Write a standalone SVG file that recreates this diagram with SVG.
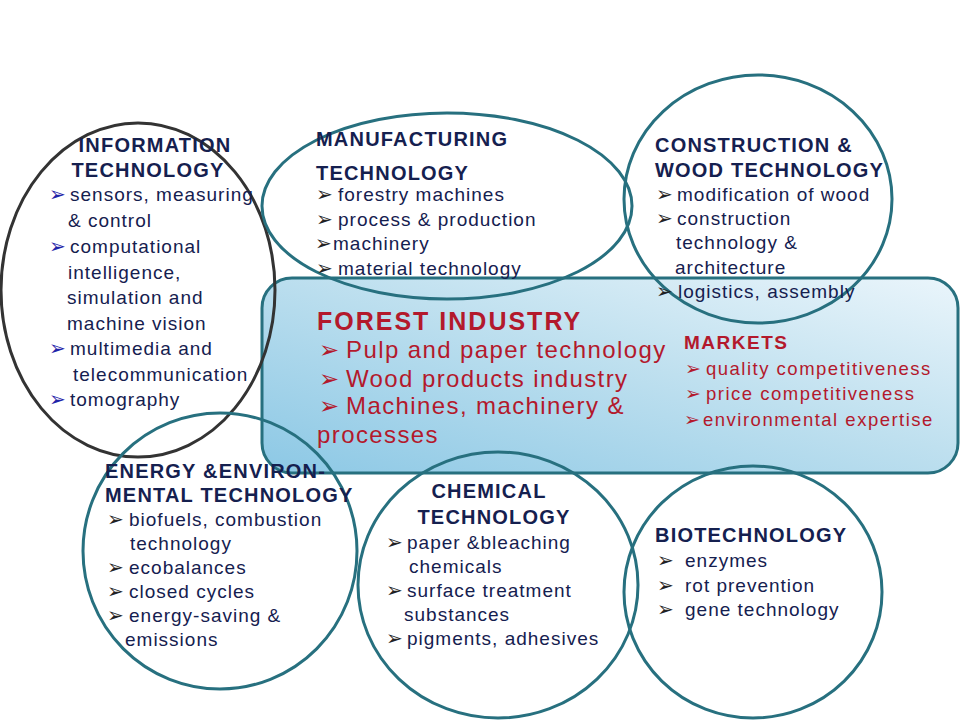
<svg xmlns="http://www.w3.org/2000/svg" width="960" height="720" viewBox="0 0 960 720">
<defs>
<linearGradient id="boxGrad" x1="0" y1="1" x2="1" y2="0">
<stop offset="0" stop-color="#8cc8e5"/>
<stop offset="0.55" stop-color="#bfe0ef"/>
<stop offset="1" stop-color="#eaf5fb"/>
</linearGradient>
<style>
.ring{fill:none;stroke:#27707f;stroke-width:3}
.ring-dark{fill:none;stroke:#333333;stroke-width:3}
text{font-family:"Liberation Sans","DejaVu Sans",sans-serif}
.h{font-size:20px;font-weight:bold;fill:#15204f;letter-spacing:1.2px}
.t{font-size:19px;fill:#15204f;letter-spacing:1px}
.b{font-family:"DejaVu Sans",sans-serif;font-size:20px;fill:#222}
.bb{font-family:"DejaVu Sans",sans-serif;font-size:20px;fill:#1f23a8}
.rh{font-size:25px;font-weight:bold;fill:#b3192c;letter-spacing:2px}
.rt{font-size:24px;fill:#b3192c;letter-spacing:1.4px}
.rb{font-family:"DejaVu Sans",sans-serif;font-size:24px;fill:#b3192c}
.mh{font-size:19px;font-weight:bold;fill:#b3192c;letter-spacing:1.5px}
.mt{font-size:18.5px;fill:#b3192c;letter-spacing:1.5px}
.mb{font-family:"DejaVu Sans",sans-serif;font-size:19px;fill:#b3192c}
</style>
</defs>
<rect width="960" height="720" fill="#ffffff"/>

<g id="forest-industry">
<rect x="262" y="278" width="696" height="195" rx="30" ry="30" fill="url(#boxGrad)" stroke="#27707f" stroke-width="3"/>
<text class="rh" x="317" y="330">FOREST INDUSTRY</text>
<text class="rb" x="319" y="358">➢</text><text class="rt" x="346" y="358">Pulp and paper technology</text>
<text class="rb" x="319" y="387">➢</text><text class="rt" x="346" y="387">Wood products industry</text>
<text class="rb" x="319" y="414">➢</text><text class="rt" x="346" y="414">Machines, machinery &amp;</text>
<text class="rt" x="317" y="443">processes</text>
</g>

<g id="markets">
<text class="mh" x="684" y="349">MARKETS</text>
<text class="mb" x="685" y="375">➢</text><text class="mt" x="706" y="375">quality competitiveness</text>
<text class="mb" x="685" y="400">➢</text><text class="mt" x="706" y="400">price competitiveness</text>
<text class="mb" x="684" y="426">➢</text><text class="mt" x="703" y="426">environmental expertise</text>
</g>

<g id="information-technology">
<ellipse class="ring-dark" cx="138" cy="290" rx="137" ry="167"/>
<text class="h" x="155" y="152" text-anchor="middle">INFORMATION</text>
<text class="h" x="148" y="177" text-anchor="middle">TECHNOLOGY</text>
<text class="bb" x="49" y="201">➢</text><text class="t" x="70" y="201">sensors, measuring</text>
<text class="t" x="68" y="227">&amp; control</text>
<text class="bb" x="49" y="253">➢</text><text class="t" x="70" y="253">computational</text>
<text class="t" x="68" y="279">intelligence,</text>
<text class="t" x="67" y="304">simulation and</text>
<text class="t" x="67" y="330">machine vision</text>
<text class="bb" x="49" y="355">➢</text><text class="t" x="70" y="355">multimedia and</text>
<text class="t" x="73" y="381">telecommunication</text>
<text class="bb" x="49" y="406">➢</text><text class="t" x="70" y="406">tomography</text>
</g>

<g id="manufacturing-technology">
<ellipse class="ring" cx="447" cy="206" rx="185" ry="93"/>
<text class="h" x="316" y="146">MANUFACTURING</text>
<text class="h" x="316" y="180">TECHNOLOGY</text>
<text class="b" x="316" y="201">➢</text><text class="t" x="338" y="201">forestry machines</text>
<text class="b" x="316" y="226">➢</text><text class="t" x="338" y="226">process &amp; production</text>
<text class="b" x="315" y="250">➢</text><text class="t" x="333" y="250">machinery</text>
<text class="b" x="316" y="275">➢</text><text class="t" x="338" y="275">material technology</text>
</g>

<g id="construction-wood-technology">
<ellipse class="ring" cx="758" cy="199" rx="134" ry="124"/>
<text class="h" x="655" y="152">CONSTRUCTION &amp;</text>
<text class="h" x="655" y="177">WOOD TECHNOLOGY</text>
<text class="b" x="656" y="201">➢</text><text class="t" x="677" y="201">modification of wood</text>
<text class="b" x="656" y="225">➢</text><text class="t" x="677" y="225">construction</text>
<text class="t" x="676" y="249">technology &amp;</text>
<text class="t" x="675" y="274">architecture</text>
<text class="b" x="656" y="298">➢</text><text class="t" x="678" y="298">logistics, assembly</text>
</g>

<g id="energy-environmental-technology">
<ellipse class="ring" cx="220" cy="551" rx="137" ry="138"/>
<text class="h" x="105" y="478">ENERGY &amp;ENVIRON-</text>
<text class="h" x="105" y="502">MENTAL TECHNOLOGY</text>
<text class="b" x="107" y="526">➢</text><text class="t" x="129" y="526">biofuels, combustion</text>
<text class="t" x="130" y="550">technology</text>
<text class="b" x="107" y="574">➢</text><text class="t" x="129" y="574">ecobalances</text>
<text class="b" x="107" y="598">➢</text><text class="t" x="129" y="598">closed cycles</text>
<text class="b" x="107" y="622">➢</text><text class="t" x="129" y="622">energy-saving &amp;</text>
<text class="t" x="125" y="646">emissions</text>
</g>

<g id="chemical-technology">
<ellipse class="ring" cx="498" cy="585" rx="140" ry="133"/>
<text class="h" x="489" y="498" text-anchor="middle">CHEMICAL</text>
<text class="h" x="494" y="524" text-anchor="middle">TECHNOLOGY</text>
<text class="b" x="386" y="549">➢</text><text class="t" x="407" y="549">paper &amp;bleaching</text>
<text class="t" x="409" y="573">chemicals</text>
<text class="b" x="386" y="597">➢</text><text class="t" x="407" y="597">surface treatment</text>
<text class="t" x="404" y="621">substances</text>
<text class="b" x="386" y="645">➢</text><text class="t" x="407" y="645">pigments, adhesives</text>
</g>

<g id="biotechnology">
<ellipse class="ring" cx="753" cy="592" rx="129" ry="126"/>
<text class="h" x="655" y="542">BIOTECHNOLOGY</text>
<text class="b" x="657" y="567">➢</text><text class="t" x="685" y="567">enzymes</text>
<text class="b" x="657" y="592">➢</text><text class="t" x="685" y="592">rot prevention</text>
<text class="b" x="657" y="616">➢</text><text class="t" x="685" y="616">gene technology</text>
</g>

<g id="connectors"></g>
</svg>
